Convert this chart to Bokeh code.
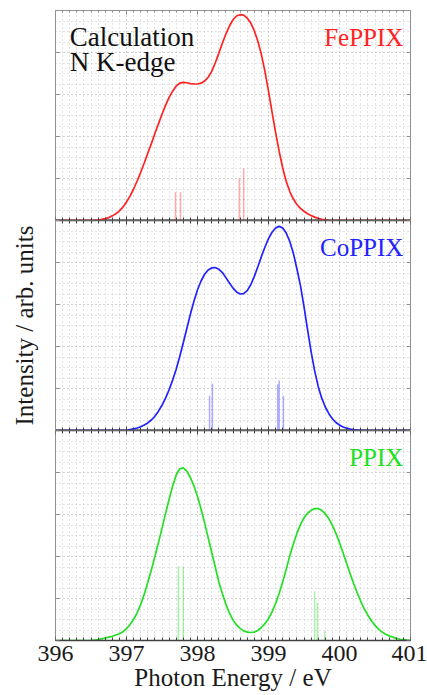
from bokeh.plotting import figure
from bokeh.layouts import column
from bokeh.models import Range1d, LinearAxis, SingleIntervalTicker, Grid, Label
from bokeh.embed import file_html
from bokeh.resources import INLINE

SERIF = "Liberation Serif, 'Times New Roman', 'DejaVu Serif', serif"

# ---- FePPIX (calculated N K-edge) ----
fe_energy = [396.0, 396.5, 396.55, 396.6, 396.65, 396.7, 396.75, 396.8, 396.85, 396.9, 396.95,
             397.0, 397.05, 397.1, 397.15, 397.2, 397.25, 397.3, 397.35, 397.4, 397.45,
             397.5, 397.55, 397.6, 397.65, 397.7, 397.75, 397.8, 397.85, 397.9, 397.95,
             398.0, 398.05, 398.1, 398.15, 398.2, 398.25, 398.3, 398.35, 398.4, 398.45,
             398.5, 398.55, 398.6, 398.65, 398.7, 398.75, 398.8, 398.85, 398.9, 398.95,
             399.0, 399.05, 399.1, 399.15, 399.2, 399.25, 399.3, 399.35, 399.4, 399.45,
             399.5, 399.55, 399.6, 399.65, 399.7, 399.75, 399.8, 399.85, 399.9, 401.0]
fe_intensity = [0.0, 0.0, 0.005, 0.012, 0.025, 0.045, 0.07, 0.11, 0.16, 0.23, 0.32,
                0.44, 0.58, 0.75, 0.94, 1.15, 1.37, 1.6, 1.83, 2.07, 2.3,
                2.53, 2.74, 2.93, 3.08, 3.2, 3.27, 3.29, 3.28, 3.26, 3.25,
                3.25, 3.27, 3.32, 3.41, 3.55, 3.75, 3.98, 4.22, 4.44, 4.63,
                4.78, 4.87, 4.9, 4.89, 4.82, 4.7, 4.52, 4.27, 3.95, 3.55,
                3.08, 2.58, 2.1, 1.65, 1.25, 0.93, 0.69, 0.51, 0.38, 0.29,
                0.22, 0.16, 0.12, 0.08, 0.05, 0.03, 0.015, 0.005, 0.0, 0.0]
fe_stick_energy = [397.69, 397.76, 398.59, 398.65]
fe_stick_height = [0.67, 0.67, 1.0, 1.24]

# ---- CoPPIX ----
co_energy = [396.0, 397.0, 397.05, 397.1, 397.15, 397.2, 397.25, 397.3, 397.35, 397.4, 397.45,
             397.5, 397.55, 397.6, 397.65, 397.7, 397.75, 397.8, 397.85, 397.9, 397.95,
             398.0, 398.05, 398.1, 398.15, 398.2, 398.25, 398.3, 398.35, 398.4, 398.45,
             398.5, 398.55, 398.6, 398.65, 398.7, 398.75, 398.8, 398.85, 398.9, 398.95,
             399.0, 399.05, 399.1, 399.15, 399.2, 399.25, 399.3, 399.35, 399.4, 399.45,
             399.5, 399.55, 399.6, 399.65, 399.7, 399.75, 399.8, 399.85, 399.9, 399.95,
             400.0, 400.05, 400.1, 400.15, 400.2, 400.25, 400.3, 400.35, 401.0]
co_intensity = [0.0, 0.0, 0.02, 0.04, 0.06, 0.09, 0.13, 0.18, 0.25, 0.34, 0.46,
                0.6, 0.77, 0.97, 1.2, 1.46, 1.76, 2.09, 2.43, 2.77, 3.08,
                3.35, 3.56, 3.72, 3.82, 3.87, 3.88, 3.84, 3.76, 3.64, 3.51,
                3.39, 3.3, 3.25, 3.26, 3.33, 3.47, 3.67, 3.9, 4.14, 4.37,
                4.57, 4.72, 4.82, 4.86, 4.82, 4.7, 4.5, 4.22, 3.85, 3.45,
                2.95, 2.4, 1.88, 1.42, 1.05, 0.77, 0.56, 0.4, 0.28, 0.19,
                0.13, 0.085, 0.055, 0.035, 0.02, 0.01, 0.005, 0.0, 0.0]
co_stick_energy = [398.17, 398.21, 399.13, 399.15, 399.21]
co_stick_height = [0.83, 1.12, 1.10, 1.19, 0.83]

# ---- PPIX ----
pp_energy = [396.0, 396.5, 396.55, 396.6, 396.65, 396.7, 396.75, 396.8, 396.85, 396.9, 396.95,
             397.0, 397.05, 397.1, 397.15, 397.2, 397.25, 397.3, 397.35, 397.4, 397.45,
             397.5, 397.55, 397.6, 397.65, 397.7, 397.75, 397.8, 397.85, 397.9, 397.95,
             398.0, 398.05, 398.1, 398.15, 398.2, 398.25, 398.3, 398.35, 398.4, 398.45,
             398.5, 398.55, 398.6, 398.65, 398.7, 398.75, 398.8, 398.85, 398.9, 398.95,
             399.0, 399.05, 399.1, 399.15, 399.2, 399.25, 399.3, 399.35, 399.4, 399.45,
             399.5, 399.55, 399.6, 399.65, 399.7, 399.75, 399.8, 399.85, 399.9, 399.95,
             400.0, 400.05, 400.1, 400.15, 400.2, 400.25, 400.3, 400.35, 400.4, 400.45,
             400.5, 400.55, 400.6, 400.65, 400.7, 400.75, 400.8, 400.85, 400.9, 400.95, 401.0]
pp_intensity = [0.0, 0.0, 0.01, 0.02, 0.04, 0.06, 0.08, 0.1, 0.13, 0.16, 0.21,
                0.28, 0.38, 0.5, 0.66, 0.86, 1.1, 1.38, 1.68, 2.0, 2.33,
                2.67, 3.02, 3.36, 3.68, 3.94, 4.09, 4.11, 4.03, 3.88, 3.68,
                3.43, 3.13, 2.8, 2.45, 2.1, 1.75, 1.4, 1.12, 0.86, 0.65,
                0.49, 0.37, 0.29, 0.23, 0.2, 0.19, 0.2, 0.24, 0.31, 0.4,
                0.52, 0.68, 0.88, 1.12, 1.39, 1.7, 2.02, 2.3, 2.55, 2.76,
                2.92, 3.03, 3.1, 3.14, 3.14, 3.1, 3.02, 2.9, 2.74, 2.55,
                2.33, 2.09, 1.84, 1.59, 1.35, 1.13, 0.93, 0.75, 0.6, 0.47,
                0.36, 0.27, 0.2, 0.15, 0.11, 0.08, 0.05, 0.03, 0.02, 0.01, 0.005]
pp_stick_energy = [397.73, 397.80, 399.65, 399.69, 399.79]
pp_stick_height = [1.77, 1.77, 1.17, 0.89, 0.22]

x_ticks_major = 1.0
x_minor_count = 10
y_minor_count = 4

GRID = "#c4c4c4"
SIDE = "#8f8f8f"
BASE = "#404040"
TEXT = "#1a1a1a"


def make_axis(**kw):
    base = dict(major_label_text_color=None, major_label_text_font_size="1px",
                major_label_standoff=0,
                axis_line_color=SIDE, major_tick_line_color=SIDE, minor_tick_line_color=SIDE,
                major_tick_out=0, minor_tick_out=0, major_tick_in=4, minor_tick_in=0)
    base.update(kw)
    return LinearAxis(**base)


def panel(energy, intensity, s_e, s_h, color, name, top, bottom, first, last):
    size = dict(frame_width=355)
    if last:
        size["height"] = 210 + top + bottom
    else:
        size["frame_height"] = 210
    p = figure(**size,
               x_range=Range1d(396, 401), y_range=Range1d(0, 5),
               x_axis_type=None, y_axis_type=None,
               output_backend="svg", toolbar_location=None,
               min_border_left=55, min_border_right=17,
               min_border_top=top, min_border_bottom=bottom)
    p.outline_line_color = SIDE
    p.border_fill_color = "white"

    xt = SingleIntervalTicker(interval=x_ticks_major, num_minor_ticks=x_minor_count)
    yt = SingleIntervalTicker(interval=1, num_minor_ticks=y_minor_count)
    for dim, t in ((0, xt), (1, yt)):
        p.add_layout(Grid(dimension=dim, ticker=t,
                          grid_line_color=GRID, grid_line_dash="1 3", grid_line_width=1,
                          minor_grid_line_color=GRID, minor_grid_line_dash="1 3",
                          minor_grid_line_width=1))

    # sticks
    p.segment(x0=s_e, y0=0, x1=s_e, y1=s_h, line_color=color, line_alpha=0.38, line_width=1.5)
    # spectrum
    p.line(energy, intensity, line_color=color, line_width=1.7)

    # side axes
    if name == "CoPPIX":
        p.add_layout(make_axis(ticker=yt, axis_label="Intensity / arb. units",
                               axis_label_text_font=SERIF, axis_label_text_font_size="25px",
                               axis_label_text_font_style="normal",
                               axis_label_text_color=TEXT, axis_label_standoff=18), "left")
    else:
        p.add_layout(make_axis(ticker=yt, fixed_location=396), "left")
    p.add_layout(make_axis(ticker=yt, fixed_location=401), "right")

    # top axis
    if first:
        p.add_layout(make_axis(ticker=xt, fixed_location=5, minor_tick_in=2), "above")
    else:
        p.add_layout(make_axis(ticker=xt, fixed_location=5, minor_tick_in=3,
                               axis_line_color=BASE, major_tick_line_color=BASE,
                               minor_tick_line_color=BASE, axis_line_width=1.3), "above")

    # bottom axis
    bkw = dict(ticker=xt, minor_tick_in=3,
               axis_line_color=BASE, major_tick_line_color=BASE,
               minor_tick_line_color=BASE, axis_line_width=1.3)
    if last:
        bkw.update(major_label_text_font_size="24px", major_label_text_font=SERIF,
                   major_label_text_color=TEXT, major_label_standoff=5,
                   axis_label="Photon Energy / eV", axis_label_text_font=SERIF,
                   axis_label_text_font_size="25px", axis_label_text_font_style="normal",
                   axis_label_text_color=TEXT, axis_label_standoff=0)
    else:
        bkw.update(fixed_location=0)
    p.add_layout(make_axis(**bkw), "below")

    p.add_layout(Label(x=400.9, y=4.36, text=name, text_align="right",
                       text_baseline="alphabetic", text_font=SERIF,
                       text_font_size="25px", text_color=color))
    return p


p1 = panel(fe_energy, fe_intensity, fe_stick_energy, fe_stick_height,
           "#ff2222", "FePPIX", 10, 0, True, False)
p1.add_layout(Label(x=396.2, y=4.38, text="Calculation", text_align="left",
                    text_baseline="alphabetic", text_font=SERIF,
                    text_font_size="27px", text_color="#111111"))
p1.add_layout(Label(x=396.2, y=3.78, text="N K-edge", text_align="left",
                    text_baseline="alphabetic", text_font=SERIF,
                    text_font_size="27px", text_color="#111111"))
p2 = panel(co_energy, co_intensity, co_stick_energy, co_stick_height,
           "#2222ff", "CoPPIX", 0, 0, False, False)
p3 = panel(pp_energy, pp_intensity, pp_stick_energy, pp_stick_height,
           "#22e022", "PPIX", 0, 55, False, True)

layout = column(p1, p2, p3, spacing=0)
open("out.html", "w").write(file_html(layout, INLINE))
